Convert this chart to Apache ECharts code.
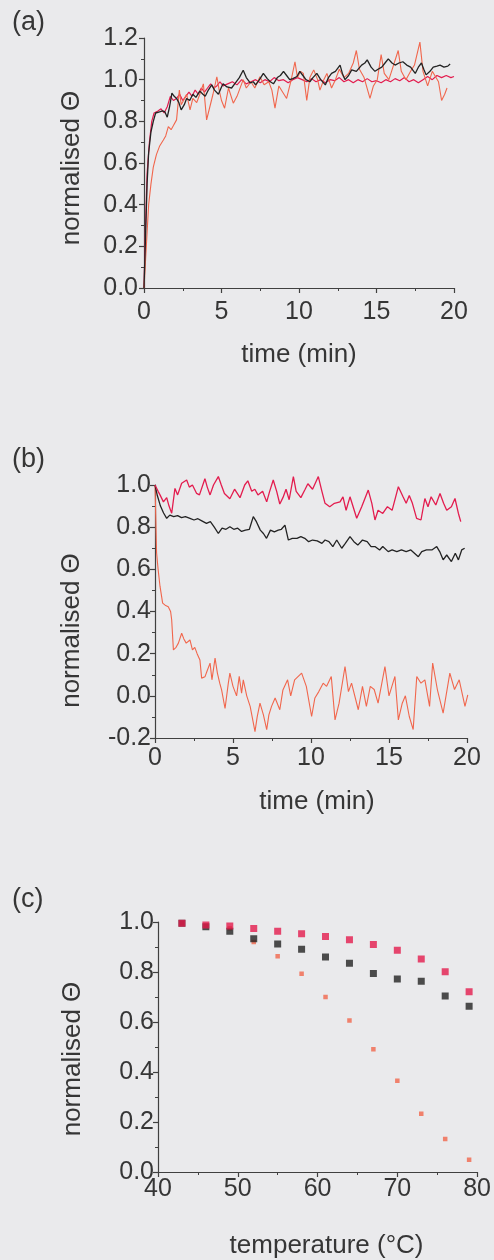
<!DOCTYPE html>
<html><head><meta charset="utf-8">
<script src="https://cdn.jsdelivr.net/npm/echarts@6/dist/echarts.min.js"></script>
<style>html,body{margin:0;padding:0;background:#eaeaec}#c{width:494px;height:1260px}</style>
</head><body><div id="c"></div>
<script>
// ---------- Panel (a): normalised signal vs time (min) ----------
const aBlack = [[0,0],[0.1,0.25],[0.2,0.5],[0.3,0.65],[0.45,0.75],[0.6,0.8],[0.75,0.84],[1.0,0.845],[1.2,0.85],[1.35,0.845],[1.5,0.82],[1.65,0.87],[1.8,0.935],[1.95,0.92],[2.1,0.91],[2.25,0.89],[2.4,0.855],[2.6,0.88],[2.75,0.91],[2.95,0.9],[3.15,0.93],[3.35,0.915],[3.6,0.945],[3.8,0.93],[3.95,0.92],[4.15,0.95],[4.37,0.975],[4.55,0.95],[4.8,0.93],[5.0,0.965],[5.1,0.98],[5.35,0.965],[5.65,0.96],[5.9,0.985],[6.15,1.01],[6.4,1.045],[6.6,1.01],[6.85,0.985],[7.05,0.99],[7.2,0.975],[7.45,1.0],[7.7,1.03],[7.95,1.005],[8.15,0.99],[8.35,0.98],[8.6,1.01],[8.8,1.02],[9.0,1.04],[9.2,1.02],[9.4,1.0],[9.6,1.005],[9.87,1.015],[10.05,1.04],[10.25,1.02],[10.45,1.0],[10.7,0.99],[10.9,1.01],[11.15,1.03],[11.4,1.0],[11.7,0.975],[11.9,1.01],[12.1,1.03],[12.35,1.04],[12.65,1.07],[12.8,1.03],[12.97,1.0],[13.2,1.02],[13.4,1.047],[13.7,1.04],[14.04,1.07],[14.25,1.08],[14.4,1.095],[14.65,1.06],[14.9,1.04],[15.1,1.05],[15.34,1.06],[15.55,1.08],[15.76,1.1],[16.0,1.08],[16.2,1.07],[16.45,1.08],[16.7,1.086],[16.95,1.07],[17.2,1.06],[17.5,1.03],[17.7,1.06],[17.9,1.08],[18.05,1.05],[18.2,1.023],[18.45,1.04],[18.66,1.06],[18.9,1.065],[19.1,1.07],[19.35,1.06],[19.6,1.065],[19.75,1.075]];
const aCrimson = [[0,0],[0.1,0.3],[0.2,0.55],[0.35,0.7],[0.5,0.8],[0.65,0.84],[0.9,0.85],[1.1,0.86],[1.3,0.84],[1.5,0.87],[1.7,0.92],[1.9,0.9],[2.1,0.91],[2.3,0.93],[2.5,0.9],[2.7,0.92],[2.9,0.94],[3.1,0.92],[3.3,0.95],[3.5,0.93],[3.7,0.96],[3.9,0.94],[4.1,0.96],[4.3,0.98],[4.5,0.96],[4.7,0.97],[4.9,0.99],[5.1,0.97],[5.4,0.98],[5.7,0.99],[6.0,0.975],[6.3,1.0],[6.6,0.98],[6.9,0.99],[7.2,1.0],[7.5,0.985],[7.8,1.0],[8.1,0.99],[8.4,1.01],[8.7,0.995],[9.0,1.0],[9.3,0.985],[9.6,1.0],[9.9,1.01],[10.2,1.0],[10.5,0.99],[10.8,1.005],[11.1,0.99],[11.4,1.0],[11.7,0.985],[12.0,1.0],[12.3,0.995],[12.6,1.01],[12.9,0.99],[13.2,1.0],[13.5,0.985],[13.8,1.0],[14.1,0.99],[14.4,1.005],[14.7,0.99],[15.0,0.995],[15.3,0.985],[15.6,1.0],[15.9,0.99],[16.2,1.005],[16.5,0.995],[16.8,1.01],[17.1,0.99],[17.4,1.0],[17.7,0.985],[18.0,1.0],[18.3,1.015],[18.6,1.0],[18.9,1.02],[19.2,1.01],[19.5,1.02],[19.8,1.01],[20.0,1.015]];
const aOrange = [[0,0],[0.15,0.2],[0.3,0.4],[0.45,0.5],[0.6,0.58],[0.8,0.64],[1.0,0.68],[1.25,0.71],[1.4,0.73],[1.57,0.775],[1.75,0.76],[1.9,0.78],[2.1,0.807],[2.28,0.95],[2.4,0.88],[2.55,0.9],[2.75,0.93],[2.97,0.855],[3.15,0.91],[3.4,0.89],[3.6,0.93],[3.83,0.98],[4.04,0.807],[4.25,0.87],[4.45,0.93],[4.7,1.014],[4.85,0.95],[5.0,0.9],[5.2,0.863],[5.45,0.96],[5.76,0.887],[6.0,0.92],[6.4,1.0],[6.6,0.96],[6.9,0.99],[7.15,0.96],[7.48,1.014],[7.75,0.976],[8.05,0.99],[8.25,0.95],[8.45,0.863],[8.7,0.97],[8.95,0.94],[9.2,0.91],[9.5,1.0],[9.74,1.086],[9.9,1.01],[10.1,1.04],[10.28,1.03],[10.5,0.9],[10.7,1.01],[10.95,1.047],[11.2,1.0],[11.35,0.95],[11.6,1.0],[11.8,1.03],[12.1,0.96],[12.35,1.0],[12.6,1.05],[12.9,1.01],[13.2,1.03],[13.5,1.08],[13.7,1.14],[13.9,1.05],[14.2,1.01],[14.58,0.91],[14.8,0.97],[15.05,1.0],[15.3,1.12],[15.5,1.03],[15.8,1.0],[16.1,1.07],[16.4,1.14],[16.6,1.04],[16.9,1.0],[17.2,1.04],[17.45,1.07],[17.8,1.18],[18.0,1.04],[18.3,0.97],[18.6,1.04],[19.0,0.99],[19.2,0.9],[19.4,0.93],[19.55,0.96]];

// ---------- Panel (b) ----------
const bBlack = [[0,1.0],[0.15,0.95],[0.35,0.9],[0.55,0.867],[0.75,0.842],[0.95,0.857],[1.2,0.85],[1.45,0.855],[1.7,0.845],[1.95,0.85],[2.24,0.842],[2.5,0.834],[2.75,0.84],[3.0,0.83],[3.3,0.818],[3.55,0.826],[3.8,0.8],[4.06,0.77],[4.3,0.795],[4.55,0.79],[4.8,0.802],[5.05,0.79],[5.3,0.795],[5.55,0.78],[5.8,0.786],[6.05,0.79],[6.3,0.85],[6.5,0.826],[6.75,0.786],[6.95,0.77],[7.15,0.747],[7.4,0.786],[7.65,0.778],[7.9,0.786],[8.1,0.79],[8.33,0.81],[8.55,0.739],[8.8,0.747],[9.1,0.747],[9.35,0.755],[9.6,0.747],[9.85,0.731],[10.1,0.739],[10.4,0.735],[10.7,0.723],[10.9,0.739],[11.15,0.731],[11.4,0.708],[11.65,0.739],[11.97,0.7],[12.2,0.723],[12.5,0.755],[12.75,0.731],[13.0,0.715],[13.3,0.739],[13.6,0.731],[13.85,0.708],[14.1,0.708],[14.4,0.692],[14.6,0.708],[14.95,0.684],[15.2,0.692],[15.5,0.684],[15.8,0.692],[16.1,0.684],[16.4,0.692],[16.88,0.66],[17.1,0.684],[17.4,0.692],[17.75,0.692],[18.06,0.708],[18.25,0.684],[18.47,0.645],[18.7,0.668],[19.0,0.637],[19.25,0.676],[19.45,0.645],[19.66,0.692],[19.85,0.7]];
const bCrimson = [[0,1.0],[0.2,0.97],[0.32,0.953],[0.54,0.92],[0.75,0.94],[0.9,0.9],[1.07,0.866],[1.28,0.984],[1.45,0.953],[1.71,1.008],[2.03,1.024],[2.2,0.99],[2.4,1.0],[2.67,0.96],[2.85,0.953],[3.2,1.03],[3.35,0.99],[3.53,0.953],[3.75,1.0],[4.06,1.04],[4.25,1.0],[4.45,0.96],[4.8,0.935],[5.1,0.98],[5.45,0.94],[5.75,1.0],[5.95,1.02],[6.2,0.97],[6.4,0.98],[6.6,0.953],[6.9,0.97],[7.16,0.92],[7.35,0.97],[7.58,1.024],[7.8,0.97],[8.0,0.91],[8.2,0.94],[8.4,0.98],[8.6,0.93],[8.87,1.04],[9.05,0.97],[9.35,0.94],[9.6,0.976],[9.8,1.006],[10.1,0.98],[10.47,1.04],[10.7,0.97],[10.9,0.913],[11.2,0.897],[11.5,0.913],[11.86,0.92],[12.05,0.944],[12.25,0.88],[12.5,0.944],[12.93,0.842],[13.25,0.897],[13.67,0.976],[13.9,0.913],[14.1,0.834],[14.3,0.88],[14.6,0.865],[14.9,0.897],[15.2,0.88],[15.6,0.992],[15.9,0.944],[16.1,0.913],[16.3,0.95],[16.5,0.913],[16.77,0.842],[17.05,0.834],[17.3,0.936],[17.5,0.897],[17.7,0.944],[18.0,0.905],[18.27,0.96],[18.5,0.913],[18.7,0.88],[19.0,0.897],[19.23,0.936],[19.45,0.865],[19.6,0.826]];
const bOrange = [[0,1.0],[0.05,0.85],[0.1,0.68],[0.2,0.6],[0.32,0.52],[0.49,0.44],[0.65,0.43],[0.85,0.423],[1.0,0.4],[1.07,0.36],[1.18,0.218],[1.35,0.23],[1.5,0.25],[1.71,0.297],[1.85,0.27],[2.0,0.25],[2.24,0.265],[2.4,0.218],[2.55,0.23],[2.7,0.2],[2.88,0.17],[2.99,0.084],[3.2,0.09],[3.35,0.12],[3.53,0.155],[3.65,0.076],[3.85,0.179],[4.0,0.108],[4.15,0.06],[4.27,0.028],[4.49,-0.06],[4.7,0.06],[4.8,0.108],[5.0,0.045],[5.23,0.0],[5.4,0.092],[5.55,0.013],[5.66,0.076],[5.88,0.0],[6.1,-0.05],[6.41,-0.17],[6.55,-0.1],[6.73,-0.035],[6.95,-0.09],[7.16,-0.16],[7.3,-0.09],[7.47,-0.05],[7.7,-0.01],[8.0,-0.066],[8.2,0.028],[8.5,0.076],[8.7,0.0],[8.95,0.076],[9.4,0.108],[9.7,0.045],[10.04,-0.098],[10.25,-0.01],[10.5,0.02],[10.78,0.06],[11.0,0.045],[11.3,0.092],[11.54,-0.114],[11.8,-0.035],[12.18,0.139],[12.4,0.02],[12.6,0.06],[13.03,-0.066],[13.3,0.045],[13.55,-0.05],[13.8,0.045],[14.05,0.03],[14.3,-0.035],[14.74,0.139],[15.0,0.0],[15.38,0.092],[15.6,-0.114],[15.85,-0.035],[16.05,0.0],[16.3,-0.098],[16.55,-0.16],[16.78,0.092],[17.05,0.06],[17.3,0.076],[17.6,-0.05],[17.8,0.155],[18.1,0.03],[18.47,-0.082],[18.9,0.108],[19.2,0.03],[19.5,0.076],[19.87,-0.05],[20.05,0.005]];

// ---------- Panel (c): normalised signal vs temperature ----------
const cTemp = [43,46,49,52,55,58,61,64,67,70,73,76,79];
const cCrimson = [0.995,0.988,0.984,0.974,0.963,0.953,0.942,0.929,0.910,0.887,0.852,0.801,0.721];
const cBlack = [0.995,0.981,0.963,0.933,0.912,0.891,0.860,0.835,0.794,0.772,0.763,0.704,0.663];
const cOrange = [0.995,0.985,0.975,0.920,0.863,0.793,0.700,0.606,0.491,0.365,0.233,0.132,0.049];

const panelLabels = ['(a)','(b)','(c)'];
const yName = 'normalised Θ';
const xNames = ['time (min)','time (min)','temperature (°C)'];

const FONT = "'Liberation Sans', Arial, sans-serif";
const TXT = '#363636', AXC = '#404040';
const C_BLACK = '#232323', C_CRIMSON = '#e31c4e', C_ORANGE = '#f1664c';

function xAx(gi, min, max, interval, margin, name, gap, shift) {
  return {
    type:'value', gridIndex:gi, min, max, interval,
    name, nameLocation:'middle', nameGap:gap,
    nameTextStyle:{fontSize:26, color:TXT, fontFamily:FONT, padding:[0,0,0,shift*2]},
    axisLine:{show:true, onZero:false, lineStyle:{color:AXC, width:1.2}},
    axisTick:{show:true, length:5, lineStyle:{color:AXC, width:1.2}},
    minorTick:{show:true, splitNumber:2, length:3, lineStyle:{color:AXC, width:1}},
    splitLine:{show:false}, minorSplitLine:{show:false},
    axisLabel:{fontSize:25, color:TXT, fontFamily:FONT, margin}
  };
}
function yAx(gi, min, max, margin, gap, shiftDown) {
  return {
    type:'value', gridIndex:gi, min, max, interval:0.2,
    name:yName, nameLocation:'middle', nameRotate:90, nameGap:gap,
    nameTextStyle:{fontSize:26, color:TXT, fontFamily:FONT, padding:[0,shiftDown*2,0,0]},
    axisLine:{show:true, onZero:false, lineStyle:{color:AXC, width:1.2}},
    axisTick:{show:true, length:5, lineStyle:{color:AXC, width:1.2}},
    minorTick:{show:true, splitNumber:2, length:3, lineStyle:{color:AXC, width:1}},
    splitLine:{show:false}, minorSplitLine:{show:false},
    axisLabel:{fontSize:25, color:TXT, fontFamily:FONT, margin, formatter:v=>v.toFixed(1)}
  };
}
function line(xi, data, color, w) {
  return {type:'line', xAxisIndex:xi, yAxisIndex:xi, data, showSymbol:false, symbol:'none', clip:false,
    lineStyle:{color, width:w}, itemStyle:{color}, silent:true, animation:false};
}
function pts(temps, vals){ return temps.map((t,i)=>[t, vals[i]]); }
function scat(data, color, size) {
  return {type:'scatter', xAxisIndex:2, yAxisIndex:2, data, symbol:'rect', symbolSize:size, clip:false,
    itemStyle:{color}, silent:true, animation:false};
}

const chart = echarts.init(document.getElementById('c'), null, {renderer:'canvas'});
chart.setOption({
  backgroundColor:'#eaeaec',
  animation:false,
  grid:[
    {left:144, top:38, width:310, height:250},
    {left:155, top:485, width:312, height:253},
    {left:158, top:922, width:320, height:253}
  ],
  xAxis:[
    xAx(0, 0, 20, 5, 12, xNames[0], 54, 0),
    xAx(1, 0, 20, 5, 8, xNames[1], 51, 6),
    xAx(2, 40, 80, 10, 5, xNames[2], 61, 9)
  ],
  yAxis:[
    yAx(0, 0, 1.2, 6, 59, 5),
    yAx(1, -0.2, 1.0, 4, 70, 19),
    yAx(2, 0, 1.0, 4, 72, 12)
  ],
  graphic:[
    {type:'text', left:12, top:9, style:{text:panelLabels[0], fontSize:27, fill:TXT, fontFamily:FONT}},
    {type:'text', left:12, top:446, style:{text:panelLabels[1], fontSize:27, fill:TXT, fontFamily:FONT}},
    {type:'text', left:12, top:886, style:{text:panelLabels[2], fontSize:27, fill:TXT, fontFamily:FONT}}
  ],
  series:[
    line(0, aCrimson, C_CRIMSON, 1.2),
    line(0, aOrange, C_ORANGE, 1.1),
    line(0, aBlack, C_BLACK, 1.3),
    line(1, bOrange, C_ORANGE, 1.1),
    line(1, bBlack, C_BLACK, 1.3),
    line(1, bCrimson, C_CRIMSON, 1.3),
    scat(pts(cTemp, cOrange), C_ORANGE, 4.5),
    scat(pts(cTemp, cBlack), C_BLACK, 7),
    scat(pts(cTemp, cCrimson), C_CRIMSON, 7)
  ]
});
</script>
</body></html>
